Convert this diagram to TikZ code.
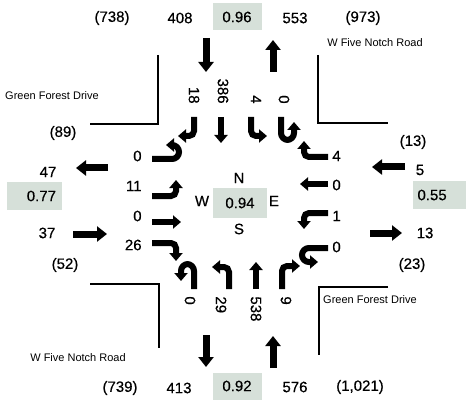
\documentclass[tikz,border=0pt]{standalone}
\usepackage{fontspec}
\setmainfont{Liberation Sans}
\newfontfamily\volfont[FakeBold=0.5]{Liberation Sans}
\usetikzlibrary{arrows.meta}

\definecolor{phfgray}{RGB}{214,224,217}

\begin{document}
\begin{tikzpicture}[
    x=0.5pt, y=-0.5pt,
    vol/.style={font=\fontsize{7.5}{8}\volfont, inner sep=0pt},
    street/.style={font=\fontsize{5.5}{6}\selectfont, inner sep=0pt},
    phf/.style={vol, fill=phfgray, minimum width=24.5pt, minimum height=13.5pt},
    flow/.style={line width=3.5pt, -{Triangle[length=5pt, width=7.5pt]}},
    move/.style={line width=3pt, rounded corners=2.5pt, -{Triangle[length=4pt, width=6.5pt]}},
    uturn/.style={move, rounded corners=3.5pt},
    curb/.style={line width=1pt}
]
    \useasboundingbox (0,0) rectangle (466,401);

    % === Curb corners and street names ===
    \draw[curb] (158,55) -- (158,124) -- (90,124);
    \draw[curb] (318,55) -- (318,123) -- (388,123);
    \draw[curb] (90,284) -- (159,284) -- (159,348);
    \draw[curb] (388,287) -- (319,287) -- (319,355);

    \node[street] (nwName) at (52,96) {Green Forest Drive};
    \node[street] (neName) at (375,43) {W Five Notch Road};
    \node[street] (swName) at (78,358) {W Five Notch Road};
    \node[street] (seName) at (370,300) {Green Forest Drive};

    % === North leg ===
    \node[vol] (nPeak) at (112,18) {(738)};
    \node[vol] (nOut) at (180,18) {408};
    \node[phf] (nPhf) at (237,17) {0.96};
    \node[vol] (nIn) at (295,18) {553};
    \node[vol] (nTot) at (363,18) {(973)};
    \draw[flow] (206,38) -- (206,72);
    \draw[flow] (273,72) -- (273,40);

    % === South leg ===
    \node[vol] (sPeak) at (120,388) {(739)};
    \node[vol] (sOut) at (179,388) {413};
    \node[phf] (sPhf) at (237,386) {0.92};
    \node[vol] (sIn) at (295,387) {576};
    \node[vol] (sTot) at (360,387) {(1,021)};
    \draw[flow] (206,335) -- (206,367);
    \draw[flow] (273,368) -- (273,336);

    % === West leg ===
    \node[vol] (wTot) at (63,133) {(89)};
    \node[vol] (wOut) at (48,172) {47};
    \node[phf, minimum width=27.5pt, text width=22pt, align=right] (wPhf) at (34,196) {0.77};
    \node[vol] (wIn) at (47,233) {37};
    \node[vol] (wPeak) at (65,265) {(52)};
    \draw[flow] (108,168) -- (76,168);
    \draw[flow] (73,234) -- (107,234);

    % === East leg ===
    \node[vol] (eTot) at (413,142) {(13)};
    \node[vol] (eIn) at (420,170) {5};
    \node[phf, minimum width=26.5pt, text width=22pt, align=left] (ePhf) at (439.5,195) {0.55};
    \node[vol] (eOut) at (425,233) {13};
    \node[vol] (ePeak) at (412,265) {(23)};
    \draw[flow] (405,167) -- (372,167);
    \draw[flow] (370,233) -- (402,233);

    % === Intersection ===
    \node[vol] (compN) at (239,178) {N};
    \node[vol] (compW) at (202,201) {W};
    \node[phf, minimum width=27pt, minimum height=15pt] (midPhf) at (240,203) {0.94};
    \node[vol] (compE) at (274,201) {E};
    \node[vol] (compS) at (239,229) {S};

    % southbound turns
    \node[vol, rotate=-90, anchor=east] (sbR) at (194,104) {18};
    \node[vol, rotate=-90, anchor=east] (sbT) at (223,104) {386};
    \node[vol, rotate=-90, anchor=east] (sbL) at (256,104) {4};
    \node[vol, rotate=-90, anchor=east] (sbU) at (284,104) {0};
    \draw[move] (194,117) |- (178,136);
    \draw[move] (221,117) -- (221,143);
    \draw[move] (251,117) |- (267,136);
    \draw[uturn] (281,117) -- (281,140) -- (294,140) -- (294,122);

    % eastbound turns
    \node[vol, anchor=east] (ebU) at (142,156) {0};
    \node[vol, anchor=east] (ebL) at (142,186) {11};
    \node[vol, anchor=east] (ebT) at (142,216) {0};
    \node[vol, anchor=east] (ebR) at (142,245) {26};
    \draw[uturn] (152,159) -- (179,159) -- (179,145) -- (166,145);
    \draw[move] (152,196) -| (176,180);
    \draw[move] (152,222) -- (181,222);
    \draw[move] (152,243) -| (176,261);

    % westbound turns
    \node[vol, anchor=west] (wbR) at (332,156) {4};
    \node[vol, anchor=west] (wbT) at (332,185) {0};
    \node[vol, anchor=west] (wbL) at (332,216) {1};
    \node[vol, anchor=west] (wbU) at (332,247) {0};
    \draw[move] (328,157) -| (304,141);
    \draw[move] (328,184) -- (300,184);
    \draw[move] (328,213) -| (304,229);
    \draw[uturn] (328,248) -- (302,248) -- (302,262) -- (318,262);

    % northbound turns
    \node[vol, rotate=-90, anchor=west] (nbU) at (190,296) {0};
    \node[vol, rotate=-90, anchor=west] (nbL) at (221,296) {29};
    \node[vol, rotate=-90, anchor=west] (nbT) at (256,296) {538};
    \node[vol, rotate=-90, anchor=west] (nbR) at (286,296) {9};
    \draw[uturn] (194,289) -- (194,264) -- (181,264) -- (181,281);
    \draw[move] (229,289) |- (212,267);
    \draw[move] (256,289) -- (256,262);
    \draw[move] (282,289) |- (300,266);

\end{tikzpicture}
\end{document}
